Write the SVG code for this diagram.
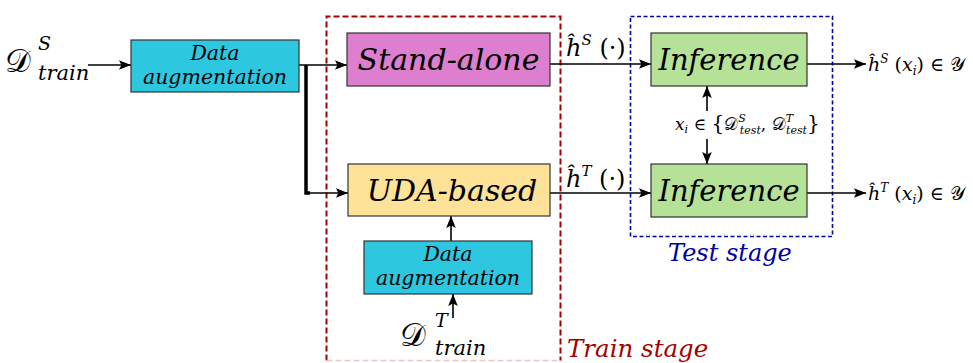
<svg xmlns="http://www.w3.org/2000/svg" width="973" height="363" viewBox="0 0 973 363">
<defs>
<marker id="ah" viewBox="0 0 10 10" refX="10" refY="5" markerWidth="12" markerHeight="12" markerUnits="userSpaceOnUse" orient="auto">
<path d="M0,1 L10,5 L0,9 L2,5 z" fill="#000"/>
</marker>
<style>
.box{stroke:#333;stroke-width:1.2}
.aug{fill:#2EC7E0}
.sa{fill:#DE7ECE}
.uda{fill:#FEE298}
.inf{fill:#B5E297}
text{font-family:'DejaVu Serif',serif}
.t{font-style:italic;fill:#000}
.m{fill:#000}
.c{stroke:#000;stroke-width:1.6;fill:none}
</style>
</defs>
<rect width="973" height="363" fill="#fff"/>
<g id="train-stage">
<path d="M326.5,360.5 V16.5 H560.5 V360.5" fill="none" stroke="#A50000" stroke-width="2" stroke-dasharray="6,3"/>
<line x1="326.5" y1="360.5" x2="560.5" y2="360.5" stroke="#F2C4C4" stroke-width="1.5" stroke-dasharray="6,3"/>
<text class="t" x="567" y="357" font-size="24.5" style="fill:#A50000">Train stage</text>
</g>
<g id="test-stage">
<rect x="630.5" y="16.5" width="202" height="220" fill="none" stroke="#0000A0" stroke-width="1.6" stroke-dasharray="4,2.5"/>
<text class="t" x="668" y="261" font-size="24" style="fill:#0000A0">Test stage</text>
</g>
<g id="connectors">
<line class="c" x1="88" y1="65" x2="131" y2="65" marker-end="url(#ah)"/>
<line class="c" x1="299" y1="65" x2="347" y2="65" marker-end="url(#ah)"/>
<polyline points="306,65 306,193 310,193" fill="none" stroke="#000" stroke-width="3.5"/>
<line class="c" x1="306" y1="193" x2="348" y2="193" marker-end="url(#ah)"/>
<line class="c" x1="550" y1="64" x2="651" y2="64" marker-end="url(#ah)"/>
<line class="c" x1="550" y1="193" x2="651" y2="193" marker-end="url(#ah)"/>
<line class="c" x1="807" y1="64" x2="866" y2="64" marker-end="url(#ah)"/>
<line class="c" x1="807" y1="193" x2="866" y2="193" marker-end="url(#ah)"/>
<line class="c" x1="707" y1="111" x2="707" y2="86" marker-end="url(#ah)"/>
<line class="c" x1="707" y1="139" x2="707" y2="164" marker-end="url(#ah)"/>
<line class="c" x1="451" y1="241" x2="451" y2="216" marker-end="url(#ah)"/>
<line class="c" x1="453" y1="318" x2="453" y2="294" marker-end="url(#ah)"/>
<text class="m" x="566" y="56" font-size="24"><tspan font-style="italic">ĥ</tspan><tspan font-size="15" font-style="italic" dy="-11">S</tspan><tspan dy="11"> (·)</tspan></text>
<text class="m" x="566" y="187" font-size="24"><tspan font-style="italic">ĥ</tspan><tspan font-size="15" font-style="italic" dy="-11">T</tspan><tspan dy="11"> (·)</tspan></text>
<text class="m" x="868" y="71" font-size="19"><tspan font-style="italic">ĥ</tspan><tspan font-size="12" font-style="italic" dy="-8">S</tspan><tspan dy="8"> (</tspan><tspan font-style="italic">x</tspan><tspan font-size="12" font-style="italic" dy="4">i</tspan><tspan dy="-4">) ∈ 𝒴</tspan></text>
<text class="m" x="868" y="200" font-size="19"><tspan font-style="italic">ĥ</tspan><tspan font-size="12" font-style="italic" dy="-8">T</tspan><tspan dy="8"> (</tspan><tspan font-style="italic">x</tspan><tspan font-size="12" font-style="italic" dy="4">i</tspan><tspan dy="-4">) ∈ 𝒴</tspan></text>
<text class="m" x="675" y="130" font-size="17"><tspan font-style="italic">x</tspan><tspan font-size="11" font-style="italic" dy="3">i</tspan><tspan dy="-3"> ∈ </tspan><tspan font-size="20">{</tspan><tspan>𝒟</tspan><tspan font-size="11" font-style="italic" dy="-8">S</tspan><tspan font-size="11" font-style="italic" dx="-6" dy="12">test</tspan><tspan dy="-4">, 𝒟</tspan><tspan font-size="11" font-style="italic" dy="-8">T</tspan><tspan font-size="11" font-style="italic" dx="-7" dy="12">test</tspan><tspan font-size="20" dy="-4">}</tspan></text>
</g>
<g id="src-data">
<text class="m" x="5" y="72" font-size="32">𝒟</text>
<text class="t" x="38" y="50" font-size="19">S</text>
<text class="t" x="38" y="80" font-size="21">train</text>
</g>
<g id="aug1">
<rect class="box aug" x="131" y="40" width="168" height="52"/>
<text class="t" x="215" y="60" font-size="20.5" text-anchor="middle">Data</text>
<text class="t" x="215" y="84" font-size="20.5" text-anchor="middle">augmentation</text>
</g>
<g id="standalone">
<rect class="box sa" x="347" y="33" width="203" height="53"/>
<text class="t" x="448.5" y="70" font-size="30" text-anchor="middle">Stand-alone</text>
</g>
<g id="uda">
<rect class="box uda" x="348" y="164" width="202" height="52"/>
<text class="t" x="452" y="201" font-size="30" text-anchor="middle">UDA-based</text>
</g>
<g id="aug2">
<rect class="box aug" x="364" y="241" width="168" height="53"/>
<text class="t" x="448" y="261" font-size="20.5" text-anchor="middle">Data</text>
<text class="t" x="448" y="285" font-size="20.5" text-anchor="middle">augmentation</text>
</g>
<g id="tgt-data">
<text class="m" x="400" y="346" font-size="32">𝒟</text>
<text class="t" x="435" y="327" font-size="19">T</text>
<text class="t" x="435" y="355" font-size="21">train</text>
</g>
<g id="inf1">
<rect class="box inf" x="651" y="33" width="156" height="53"/>
<text class="t" x="729" y="70" font-size="29" text-anchor="middle">Inference</text>
</g>
<g id="inf2">
<rect class="box inf" x="651" y="164" width="156" height="53"/>
<text class="t" x="729" y="201" font-size="29" text-anchor="middle">Inference</text>
</g>
</svg>
